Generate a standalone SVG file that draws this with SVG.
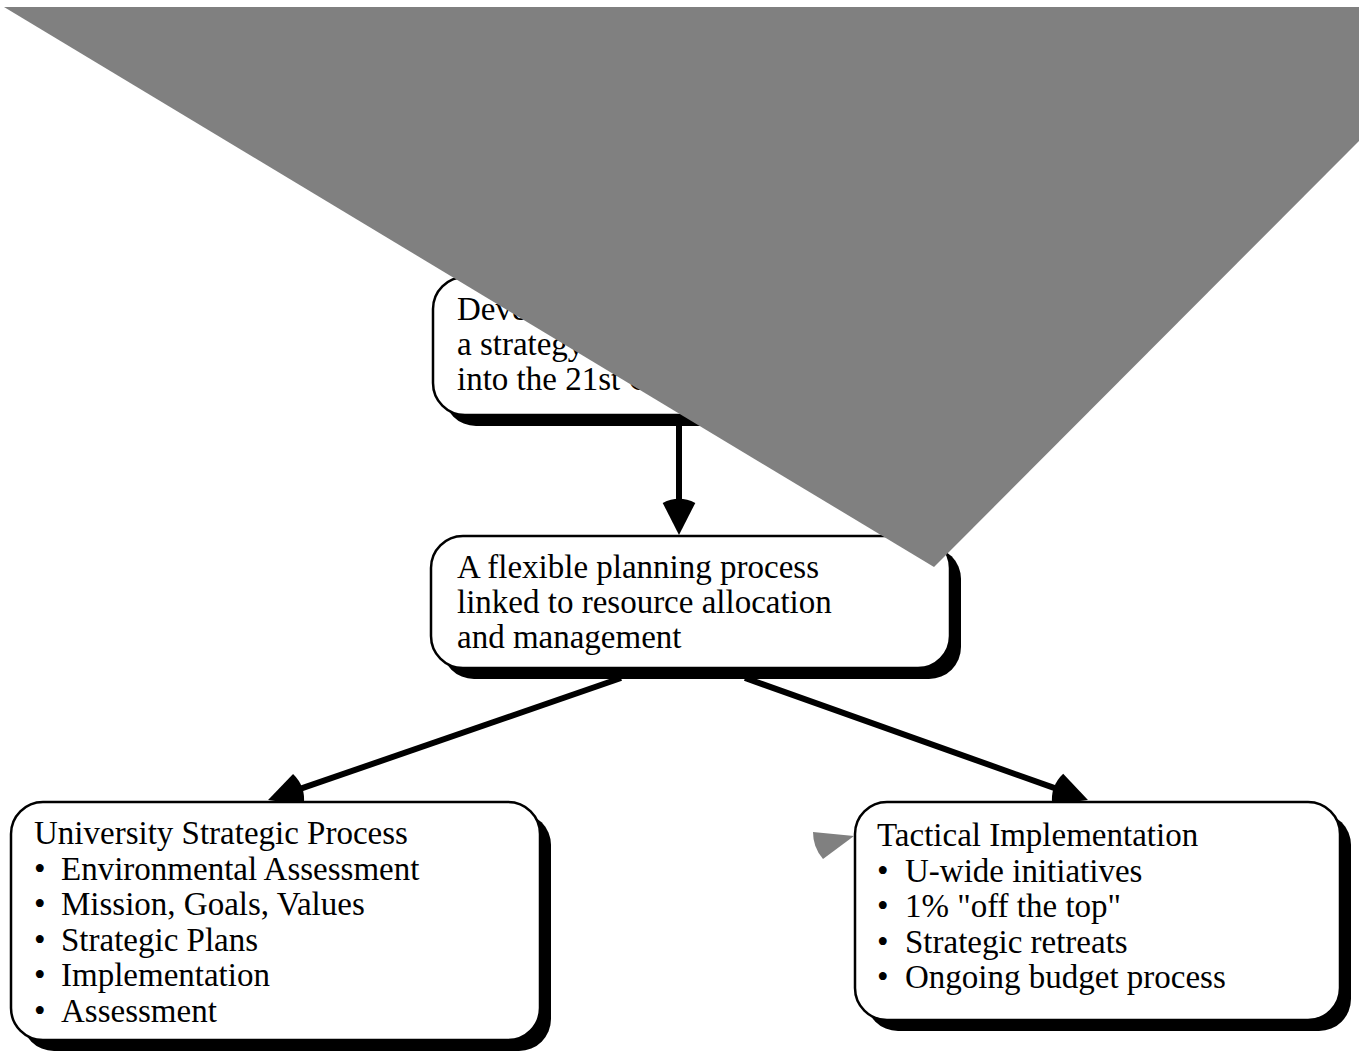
<svg xmlns="http://www.w3.org/2000/svg" width="1359" height="1051" viewBox="0 0 1359 1051">
<style>
  .shadow { fill: #000; }
  .box { fill: #fff; stroke: #000; stroke-width: 2.5; }
  .t { font-family: "Liberation Serif", "Times New Roman", serif; font-size: 33px; fill: #000; }
  .conn { stroke: #000; stroke-width: 6; fill: none; }
  .grey { fill: #808080; }
</style>
<defs>
  <marker id="pie" markerUnits="userSpaceOnUse" viewBox="-37 -18 38 36" refX="-30" refY="0" markerWidth="38" markerHeight="36" orient="auto" overflow="visible">
    <path d="M0,0 L-32.1,-16.3 A36,36 0 0,0 -32.1,16.3 Z" fill="#000"/>
  </marker>
</defs>
<rect width="1359" height="1051" fill="#fff"/>

<g id="connectors">
  <line class="conn" x1="679" y1="425" x2="679" y2="505" marker-end="url(#pie)"/>
  <line class="conn" x1="621" y1="678" x2="296.4" y2="790.2" marker-end="url(#pie)"/>
  <line class="conn" x1="745" y1="678" x2="1059.7" y2="789.9" marker-end="url(#pie)"/>
</g>

<g id="node-goal">
  <rect class="shadow" x="444" y="288" width="519" height="138" rx="32"/>
  <rect class="box" x="433" y="277" width="519" height="138" rx="32"/>
  <text class="t" x="457" y="320">Deve</text>
  <text class="t" x="457" y="355">a strategy</text>
  <text class="t" x="457" y="390">into the 21st C</text>
</g>

<g id="node-planning">
  <rect class="shadow" x="442" y="547" width="519" height="132" rx="32"/>
  <rect class="box" x="431" y="536" width="519" height="132" rx="32"/>
  <text class="t" x="457" y="578">A flexible planning process</text>
  <text class="t" x="457" y="613">linked to resource allocation</text>
  <text class="t" x="457" y="648">and management</text>
</g>

<g id="node-strategic">
  <rect class="shadow" x="22" y="813" width="529" height="238" rx="32"/>
  <rect class="box" x="11" y="802" width="529" height="238" rx="32"/>
  <text class="t" x="34" y="844">University Strategic Process</text>
  <text class="t" x="34" y="880">•</text><text class="t" x="61" y="880">Environmental Assessment</text>
  <text class="t" x="34" y="915">•</text><text class="t" x="61" y="915">Mission, Goals, Values</text>
  <text class="t" x="34" y="951">•</text><text class="t" x="61" y="951">Strategic Plans</text>
  <text class="t" x="34" y="986">•</text><text class="t" x="61" y="986">Implementation</text>
  <text class="t" x="34" y="1022">•</text><text class="t" x="61" y="1022">Assessment</text>
</g>

<g id="node-tactical">
  <rect class="shadow" x="866" y="813" width="485" height="218" rx="32"/>
  <rect class="box" x="855" y="802" width="485" height="218" rx="32"/>
  <text class="t" x="877" y="846">Tactical Implementation</text>
  <text class="t" x="877" y="882">•</text><text class="t" x="905" y="882">U-wide initiatives</text>
  <text class="t" x="877" y="917">•</text><text class="t" x="905" y="917">1% "off the top"</text>
  <text class="t" x="877" y="953">•</text><text class="t" x="905" y="953">Strategic retreats</text>
  <text class="t" x="877" y="988">•</text><text class="t" x="905" y="988">Ongoing budget process</text>
</g>

<path class="grey" d="M854,836 L813,832 A41,41 0 0,0 823,859 Z"/>
<polygon class="grey" points="4,7 1359,7 1359,141 934,567"/>
</svg>
